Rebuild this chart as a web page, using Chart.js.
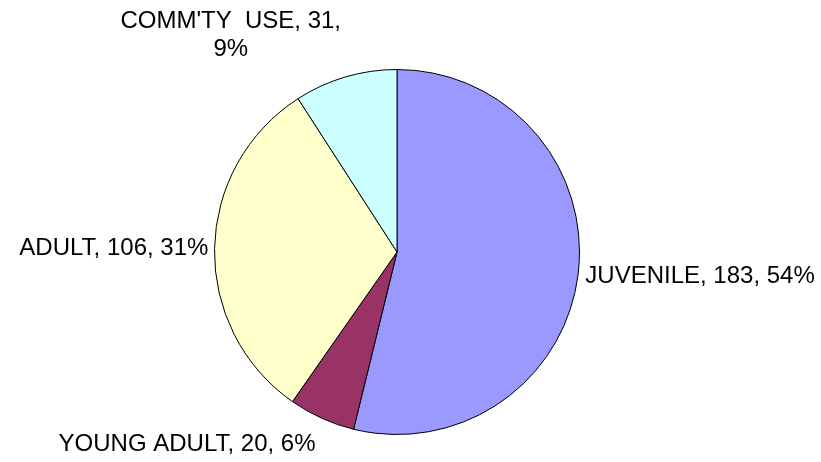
<!DOCTYPE html>
<html>
<head>
<meta charset="utf-8">
<script src="https://cdn.jsdelivr.net/npm/chart.js@4"></script>
<style>
  html, body { margin: 0; padding: 0; background: #fff; }
  #wrap { width: 821px; height: 462px; }
</style>
</head>
<body>
<div id="wrap"><canvas id="pieChart" width="821" height="462"></canvas></div>
<script>
// data
const categories = ["JUVENILE", "YOUNG ADULT", "ADULT", "COMM'TY  USE"];
const counts = [183, 20, 106, 31];
const sliceColors = ["#9999FF", "#993366", "#FFFFCC", "#CCFFFF"];

const total = counts.reduce((a, b) => a + b, 0);
const FONT = '24px "Liberation Sans", Arial, sans-serif';
const LINE_H = 28;

// Outside labels "NAME, value, pct%"
const outsideLabels = {
  id: "outsideLabels",
  afterDatasetsDraw(chart) {
    const ctx = chart.ctx;
    const meta = chart.getDatasetMeta(0);
    ctx.save();
    ctx.font = FONT;
    ctx.fillStyle = "#000";
    ctx.textBaseline = "middle";
    meta.data.forEach((arc, i) => {
      const p = arc.getProps(["x", "y", "startAngle", "endAngle", "outerRadius"], true);
      const mid = (p.startAngle + p.endAngle) / 2;
      const cos = Math.cos(mid), sin = Math.sin(mid);
      const pct = Math.round(counts[i] / total * 100);
      let lines;
      if (sin < -0.8) {
        // label above the pie gets wrapped
        lines = [categories[i] + ", " + counts[i] + ",", pct + "%"];
      } else {
        lines = [categories[i] + ", " + counts[i] + ", " + pct + "%"];
      }
      const d = 6 + 10 * Math.abs(sin);
      const ax = p.x + cos * (p.outerRadius + d);
      const ay = p.y + sin * (p.outerRadius + d);
      const w = Math.max(...lines.map(l => ctx.measureText(l).width));
      const h = lines.length * LINE_H;
      const left = cos >= 0 ? ax : ax - w;
      const cy = ay + sin * h / 2;
      ctx.textAlign = "center";
      lines.forEach((l, k) => {
        ctx.fillText(l, left + w / 2, cy - h / 2 + LINE_H / 2 + k * LINE_H);
      });
    });
    ctx.restore();
  }
};

const ctx = document.getElementById("pieChart").getContext("2d");
new Chart(ctx, {
  type: "pie",
  data: {
    labels: categories,
    datasets: [{
      data: counts,
      backgroundColor: sliceColors,
      borderColor: "#000",
      borderWidth: 1
    }]
  },
  options: {
    responsive: false,
    animation: false,
    layout: { padding: { left: 214, right: 241, top: 69, bottom: 27 } },
    plugins: {
      legend: { display: false },
      tooltip: { enabled: false }
    }
  },
  plugins: [outsideLabels]
});
</script>
</body>
</html>
